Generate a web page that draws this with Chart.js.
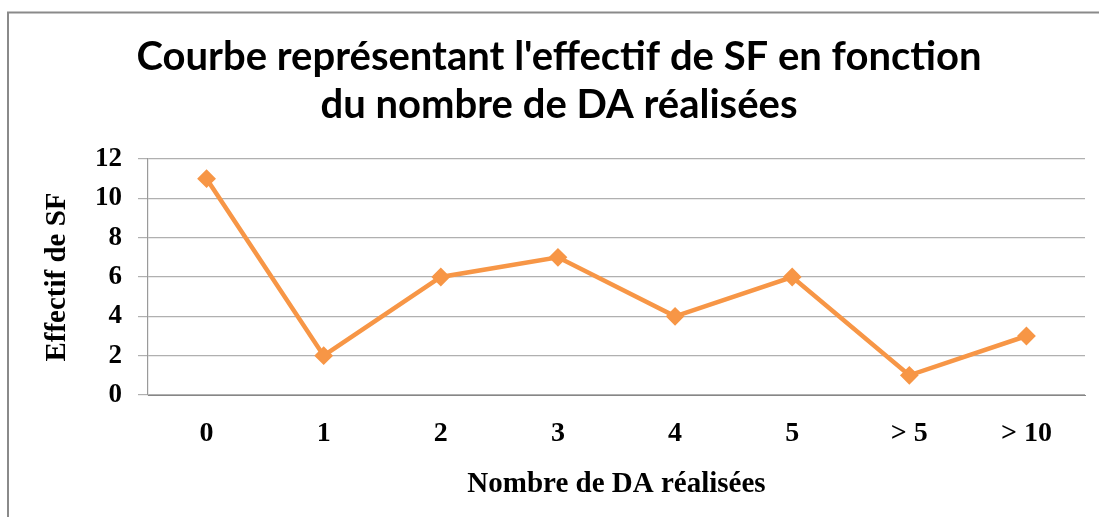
<!DOCTYPE html>
<html>
<head>
<meta charset="utf-8">
<script src="https://cdn.jsdelivr.net/npm/chart.js@4/dist/chart.umd.min.js"></script>
<style>
  body { margin: 0; background: #fff; }
  #wrap { width: 1099px; height: 517px; position: relative; }
</style>
</head>
<body>
<div id="wrap"><canvas id="chart"></canvas></div>
<script>
// Chart data
const categories = ['0', '1', '2', '3', '4', '5', '> 5', '> 10'];
const effectifs = [11, 2, 6, 7, 4, 6, 1, 3];
const titleLines = ["Courbe représentant l'effectif de SF en fonction", 'du nombre de DA réalisées'];
const xTitle = 'Nombre de DA réalisées';
const yTitle = 'Effectif de SF';

const orange = '#F79646';
const serif = "'Liberation Serif', 'Times New Roman', serif";

// Draws the grey frame of the chart (left and top edges only are visible)
const framePlugin = {
    id: 'frame',
    beforeDraw(chart) {
        const ctx = chart.ctx;
        ctx.save();
        ctx.strokeStyle = '#8a8a8a';
        ctx.lineWidth = 2;
        ctx.beginPath();
        ctx.moveTo(8, chart.height);
        ctx.lineTo(8, 12.5);
        ctx.lineTo(chart.width, 12.5);
        ctx.stroke();
        ctx.restore();
    }
};

new Chart(document.getElementById('chart'), {
    type: 'line',
    data: {
        labels: categories,
        datasets: [{
            label: yTitle,
            data: effectifs,
            borderColor: orange,
            backgroundColor: orange,
            borderWidth: 4.5,
            pointStyle: 'rectRot',
            pointRadius: 8,
            pointBorderWidth: 2,
            pointBackgroundColor: orange,
            pointBorderColor: orange,
            tension: 0
        }]
    },
    options: {
        responsive: true,
        maintainAspectRatio: false,
        animation: false,
        layout: { padding: { left: 33, top: 12, right: 14, bottom: 0 } },
        plugins: {
            legend: { display: false },
            tooltip: { enabled: false },
            title: {
                display: true,
                text: titleLines,
                color: '#000',
                font: { family: 'Lato', size: 40, weight: 'bold', lineHeight: 1.2 },
                padding: { top: 21, bottom: 30 }
            }
        },
        scales: {
            x: {
                offset: true,
                grid: { display: false, drawTicks: false },
                border: { display: true, color: '#868686', width: 1 },
                ticks: {
                    color: '#000',
                    font: { family: serif, size: 28, weight: 'bold' },
                    padding: 22,
                    maxRotation: 0
                },
                title: {
                    display: true,
                    text: xTitle,
                    color: '#000',
                    font: { family: serif, size: 29, weight: 'bold' },
                    padding: { top: 0, bottom: 15 }
                },
                afterFit: s => { s.height = 122; }
            },
            y: {
                min: 0,
                max: 12,
                ticks: {
                    stepSize: 2,
                    color: '#000',
                    font: { family: serif, size: 27, weight: 'bold' },
                    padding: 16
                },
                grid: { color: '#b0b0b0', lineWidth: 1.2, tickLength: 10, drawTicks: true },
                border: { display: true, color: '#9a9a9a', width: 1.2 },
                title: {
                    display: true,
                    text: yTitle,
                    color: '#000',
                    font: { family: serif, size: 29, weight: 'bold' },
                    padding: { top: 7, bottom: 0 }
                },
                afterFit: s => { s.width = 115; }
            }
        }
    },
    plugins: [framePlugin]
});
</script>
</body>
</html>
